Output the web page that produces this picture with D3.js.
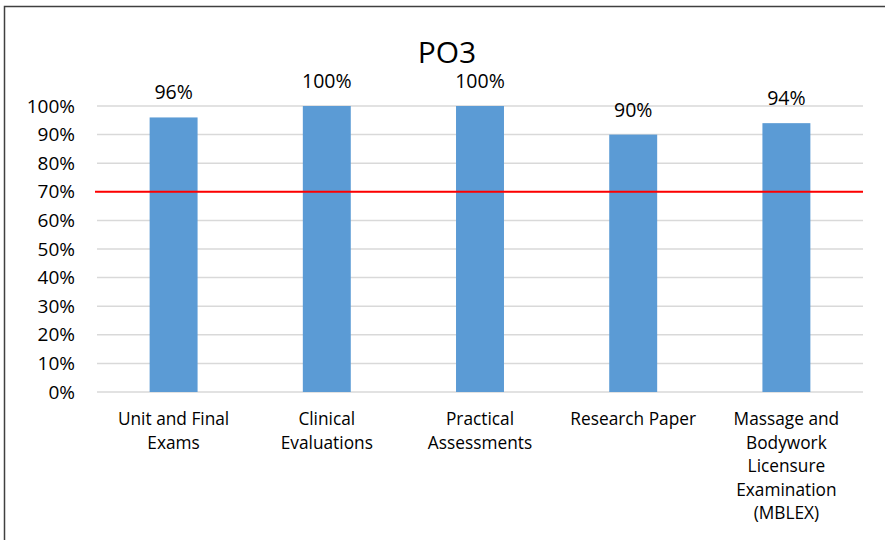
<!DOCTYPE html>
<html><head><meta charset="utf-8">
<script src="https://cdn.jsdelivr.net/npm/d3@7"></script>
<style>body{margin:0;background:#fff;overflow:hidden}svg{display:block}text{font-family:"Open Sans",Lato,sans-serif;fill:#000}</style>
</head><body><svg id="c" width="885" height="540"></svg>
<script>
const title = "PO3";
const categories = ["Unit and Final\nExams", "Clinical\nEvaluations", "Practical\nAssessments", "Research Paper", "Massage and\nBodywork\nLicensure\nExamination\n(MBLEX)"];
const values = [96, 100, 100, 90, 94];
const yTicks = [0, 10, 20, 30, 40, 50, 60, 70, 80, 90, 100];
const threshold = 70;

const svg = d3.select("#c");
svg.append("rect").attr("x", 4.5).attr("y", 6.5).attr("width", 900).attr("height", 560)
  .attr("fill", "#fff").attr("stroke", "#404040").attr("stroke-width", 1.5);

const x = d3.scaleBand().domain(categories).range([97, 863]).paddingInner(0).paddingOuter(0);
const y = d3.scaleLinear().domain([0, 100]).range([392, 106]);
const barW = x.bandwidth() * 0.313;

svg.append("g").selectAll("line").data(yTicks).join("line")
  .attr("x1", 97).attr("x2", 863).attr("y1", d => y(d)).attr("y2", d => y(d))
  .attr("stroke", "#d9d9d9").attr("stroke-width", 1.5);

svg.append("g").selectAll("text").data(yTicks).join("text")
  .attr("x", 75).attr("y", d => y(d)).attr("dy", "0.35em").attr("text-anchor", "end")
  .attr("font-size", 19).text(d => d + "%");

svg.append("g").selectAll("rect").data(values).join("rect")
  .attr("x", (d, i) => x(categories[i]) + x.bandwidth() / 2 - barW / 2)
  .attr("width", barW).attr("y", d => y(d)).attr("height", d => y(0) - y(d))
  .attr("fill", "#5b9bd5");

svg.append("line").attr("x1", 95).attr("x2", 863).attr("y1", y(threshold)).attr("y2", y(threshold))
  .attr("stroke", "#ff0000").attr("stroke-width", 2);

svg.append("g").selectAll("text").data(values).join("text")
  .attr("x", (d, i) => x(categories[i]) + x.bandwidth() / 2)
  .attr("y", d => y(d) - 18).attr("text-anchor", "middle").attr("font-size", 19.5)
  .text(d => d + "%");

const cl = svg.append("g").selectAll("text").data(categories).join("text")
  .attr("x", d => x(d) + x.bandwidth() / 2).attr("y", 425).attr("text-anchor", "middle").attr("font-size", 17.3);
cl.each(function(d) {
  const t = d3.select(this);
  d.split("\n").forEach((line, i) => {
    t.append("tspan").attr("x", x(d) + x.bandwidth() / 2).attr("y", 425 + i * 23.5).text(line);
  });
});

svg.append("text").attr("x", 447).attr("y", 63).attr("text-anchor", "middle").attr("font-size", 30).text(title);
</script></body></html>
